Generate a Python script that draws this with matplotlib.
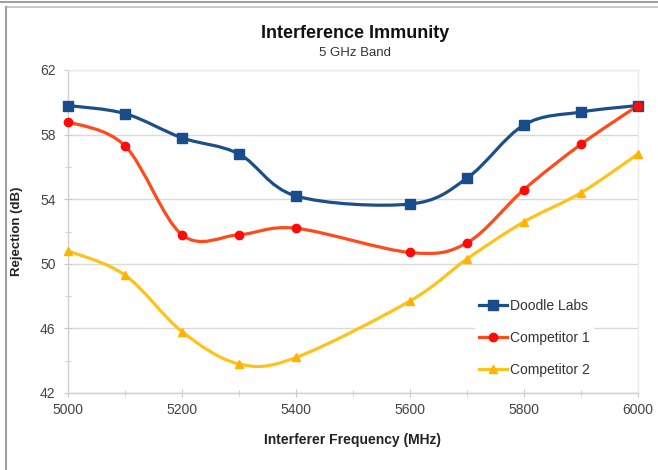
import matplotlib
matplotlib.use("Agg")
import matplotlib.pyplot as plt
from matplotlib.path import Path
from matplotlib.patches import PathPatch
from matplotlib.lines import Line2D
import numpy as np

plt.rcParams['font.family'] = ['Liberation Sans', 'DejaVu Sans']

freq = [5000, 5100, 5200, 5300, 5400, 5600, 5700, 5800, 5900, 6000]
doodle = [59.8, 59.3, 57.8, 56.8, 54.2, 53.7, 55.3, 58.6, 59.4, 59.8]
comp1 = [58.8, 57.3, 51.8, 51.8, 52.2, 50.7, 51.3, 54.6, 57.4, 59.8]
comp2 = [50.8, 49.3, 45.8, 43.8, 44.2, 47.7, 50.3, 52.6, 54.4, 56.8]
labels = ["Doodle Labs", "Competitor 1", "Competitor 2"]

line_colors = ["#1B4F8C", "#FF4A1A", "#FFC21A"]
marker_colors = ["#184C8A", "#FF0A0A", "#FFB300"]
markers = ["s", "o", "^"]
msizes = [7, 6, 5.5]

fig = plt.figure(figsize=(6.58, 4.70), dpi=100)
ax = fig.add_axes([68/658, 77/470, 570/658, 323/470])

def smooth_path(x, y):
    pts = np.column_stack([x, y]).astype(float)
    n = len(pts)
    verts = [pts[0]]
    codes = [Path.MOVETO]
    for i in range(n - 1):
        p0 = pts[i - 1] if i > 0 else pts[i]
        p1 = pts[i]
        p2 = pts[i + 1]
        p3 = pts[i + 2] if i + 2 < n else pts[i + 1]
        c1 = p1 + (p2 - p0) / 6.0
        c2 = p2 - (p3 - p1) / 6.0
        verts += [c1, c2, p2]
        codes += [Path.CURVE4] * 3
    return Path(verts, codes)

series = [doodle, comp1, comp2]
for s, lc, mc, mk, ms in zip(series, line_colors, marker_colors, markers, msizes):
    patch = PathPatch(smooth_path(freq, s), facecolor='none', edgecolor=lc,
                      lw=2.3, zorder=3, capstyle='round', joinstyle='round')
    ax.add_patch(patch)
    ax.plot(freq, s, linestyle='none', marker=mk, markersize=ms,
            color=mc, zorder=4, clip_on=False)

ax.set_xlim(5000, 6000)
ax.set_ylim(42, 62)
ax.set_xticks(range(5000, 6001, 200))
ax.set_xticks(range(5000, 6001, 100), minor=True)
ax.set_yticks(range(42, 63, 4))
ax.set_yticks(range(42, 63, 2), minor=True)
ax.grid(True, which='major', axis='y', color='#DADADA', lw=1.0)
ax.set_axisbelow(True)
for sp in ['top', 'right']:
    ax.spines[sp].set_color('#EBEBEB')
    ax.spines[sp].set_linewidth(1.0)
for sp in ['left', 'bottom']:
    ax.spines[sp].set_color('#D0D0D0')
    ax.spines[sp].set_linewidth(1.0)
ax.tick_params(which='both', colors='#C8C8C8', labelcolor='#444444',
               labelsize=10, direction='inout')
ax.tick_params(which='major', length=6)
ax.tick_params(which='minor', length=4)
ax.tick_params(axis='x', pad=4)
ax.tick_params(axis='y', pad=6)

ax.set_xlabel("Interferer Frequency (MHz)", fontsize=10, fontweight='bold',
              color='#222222', labelpad=12)
ax.set_ylabel("Rejection (dB)", fontsize=9.5, fontweight='bold',
              color='#222222', labelpad=12)

fig.text(355/658, 1 - 33/470, "Interference Immunity", ha='center', va='center',
         fontsize=13, fontweight='bold', color='#111111')
fig.text(355/658, 1 - 53/470, "5 GHz Band", ha='center', va='center',
         fontsize=9.5, color='#333333')

handles = [Line2D([0], [0], color=lc, lw=2.3, marker=mk, markersize=ms,
                  markerfacecolor=mc, markeredgecolor=mc)
           for lc, mc, mk, ms in zip(line_colors, marker_colors, markers, msizes)]
leg = ax.legend(handles, labels, loc='upper left',
                bbox_to_anchor=(468/658, 1 - 288/470), bbox_transform=fig.transFigure,
                frameon=True, fontsize=10, labelspacing=1.3, handlelength=2.0,
                handletextpad=0.2, borderpad=0.3)
leg.get_frame().set_facecolor('white')
leg.get_frame().set_edgecolor('none')
leg.get_frame().set_alpha(1.0)
for t in leg.get_texts():
    t.set_color('#333333')

# outer frame lines
fig.add_artist(Line2D([0, 1], [1 - 1.5/470, 1 - 1.5/470], transform=fig.transFigure,
                      color='#A0A0A0', lw=1.5))
fig.add_artist(Line2D([6/658, 1], [1 - 7/470, 1 - 7/470], transform=fig.transFigure,
                      color='#C0C0C0', lw=1.2))
fig.add_artist(Line2D([6/658, 6/658], [0, 1 - 7/470], transform=fig.transFigure,
                      color='#A0A0A0', lw=1.5))

fig.savefig("out.png", dpi=100)
